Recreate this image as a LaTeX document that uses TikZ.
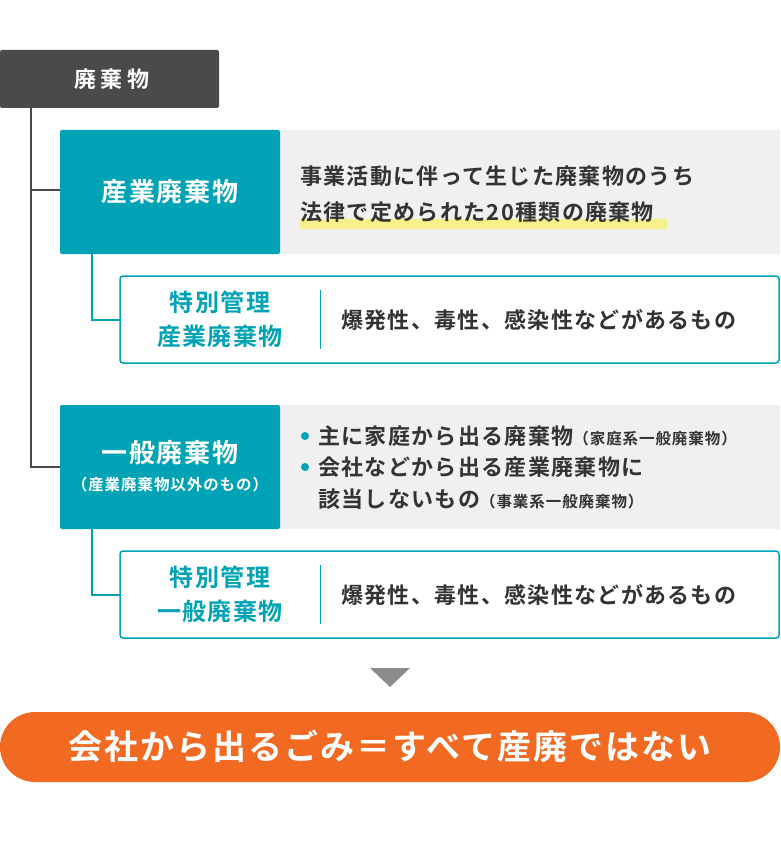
\documentclass[tikz,border=0pt]{standalone}
\usepackage{fontspec}
\setmainfont{Noto Sans CJK JP}[BoldFont={* Bold}]
\newfontfamily\jpb{Noto Sans CJK JP Bold}[LetterSpace=6]
\newfontfamily\jpw{Noto Sans CJK JP Bold}[LetterSpace=20]
\definecolor{teal1}{HTML}{00A3B5}
\definecolor{dark1}{HTML}{4A4A4A}
\definecolor{panel}{HTML}{F0F0F0}
\definecolor{txt}{HTML}{333333}
\definecolor{orng}{HTML}{F26A22}
\definecolor{hl}{HTML}{F7F08A}
\begin{document}
\begin{tikzpicture}[x=1pt,y=-1pt,
  conn/.style={draw=dark1,line width=1.2pt},
  tealbox/.style={fill=teal1,draw=none,rounded corners=2pt},
  special/.style={draw=teal1,line width=1.5pt,fill=white,rounded corners=3pt},
  body/.style={font=\jpb\fontsize{22}{28}\selectfont,text=txt,anchor=west,inner sep=0pt},
  sptitle/.style={font=\jpb\fontsize{24}{34}\selectfont,text=teal1,align=center}]
\useasboundingbox (0,0) rectangle (780,842);
% top box
\fill[dark1,rounded corners=2pt] (0,50) rectangle (219,108);
\node[font=\jpw\fontsize{22}{26}\selectfont,text=white] (top) at (112,79) {廃棄物};
% tree lines
\coordinate (t0) at (31,108);
\coordinate (j1) at (31,190);
\coordinate (j2) at (31,467);
\draw[conn] (t0) -- (j2) -- (60,467);
\draw[conn] (j1) -- (60,190);
% sangyo
\fill[panel] (280,130) rectangle (780,254);
\fill[tealbox] (60,130) rectangle (280,254);
\node[font=\jpb\fontsize{26}{30}\selectfont,text=white] (sg) at (170,192) {産業廃棄物};
\fill[hl] (300,219) rectangle (667,229);
\node[body] (sgt1) at (300,176) {事業活動に伴って生じた廃棄物のうち};
\node[body] (sgt2) at (300,212) {法律で定められた20種類の廃棄物};
\draw[conn,draw=teal1] (92,254) -- (92,320) -- (120,320);
\draw[special] (120,276) rectangle (779,363);
\node[sptitle] (sp1) at (220,319) {特別管理\\産業廃棄物};
\draw[teal1,line width=0.8pt] (320,290) -- (320,349);
\node[body] (sp1t) at (341,320) {爆発性、毒性、感染性などがあるもの};
% ippan
\fill[panel] (280,405) rectangle (780,529);
\fill[tealbox] (60,405) rectangle (280,529);
\node[font=\jpb\fontsize{26}{30}\selectfont,text=white] (ip) at (170,453) {一般廃棄物};
\node[font=\jpb\fontsize{15.5}{18}\selectfont,text=white] (ipsub) at (170,485) {（産業廃棄物以外のもの）};
\fill[teal1] (305,436) circle (4);
\fill[teal1] (305,467) circle (4);
\node[body] (b1) at (318,436) {主に家庭から出る廃棄物{\fontsize{15.5}{18}\selectfont（家庭系一般廃棄物）}};
\node[body] (b2) at (318,467) {会社などから出る産業廃棄物に};
\node[body] (b3) at (318,499) {該当しないもの{\fontsize{15.5}{18}\selectfont（事業系一般廃棄物）}};
\draw[conn,draw=teal1] (92,529) -- (92,595) -- (120,595);
\draw[special] (120,551) rectangle (779,638);
\node[sptitle] (sp2) at (220,594) {特別管理\\一般廃棄物};
\draw[teal1,line width=0.8pt] (320,565) -- (320,624);
\node[body] (sp2t) at (341,595) {爆発性、毒性、感染性などがあるもの};
% arrow
\fill[black!45] (370,668) -- (410,668) -- (390,687) -- cycle;
% bottom
\fill[orng,rounded corners=35pt] (0,712) rectangle (780,782);
\node[font=\jpb\fontsize{34}{38}\selectfont,text=white] (concl) at (390,746) {会社から出るごみ＝すべて産廃ではない};
\end{tikzpicture}
\end{document}
